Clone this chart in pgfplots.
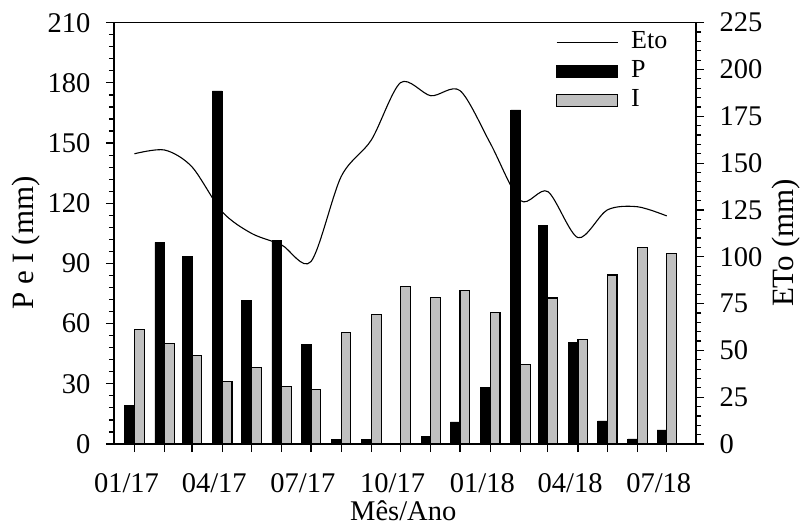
\documentclass[border=0pt]{standalone}
\usepackage{fontspec}
\setmainfont{Liberation Serif}
\usepackage{pgfplots}
\pgfplotsset{compat=1.18}
\usepackage{pgfplotstable}
\definecolor{ibar}{RGB}{192,192,192}
\newcommand{\bigf}{\fontsize{28.5}{32}\selectfont}
\newcommand{\labf}{\fontsize{31}{34}\selectfont}
\newcommand{\legf}{\fontsize{26}{28}\selectfont}

% day (0 = 1 Jan 2017), P, I
\pgfplotstableread{
d P I
0 19 57
31 100.5 50
59 93.5 44
90 176 31
120 71.5 38
151 101.5 28.8
181 49.5 27.2
212 2.3 55.5
243 2.3 64.5
273 0.4 78.5
304 3.6 73
334 11 76.5
365 28 65.5
396 166.5 39.7
424 108.8 72.8
455 50.5 52
485 11.5 84.2
516 2.5 98
546 7 95
}\bars

\pgfplotstableread{
d E
0 155
31 157
59 148
90 124
120 112.5
151 106.3
181 97.4
212 142.8
243 162.4
273 193
304 186
334 188.7
365 160.6
396 130
424 134.8
455 110.2
485 125
516 126.7
546 121.8
}\eto

\begin{document}
\begin{tikzpicture}
\useasboundingbox (-114pt,-83pt) rectangle (689pt,444pt);
\begin{axis}[
  scale only axis, width=582pt, height=421.3pt,
  xmin=-21, xmax=576, ymin=0, ymax=210,
  axis line style={line width=1.2pt},
  every tick/.style={line width=1.2pt, black},
  tick align=outside,
  major tick length=8pt, minor tick length=5pt,
  xtick={0,31,59,90,120,151,181,212,243,273,304,334,365,396,424,455,485,516,546},
  xticklabels={01/17,,,04/17,,,07/17,,,10/17,,,01/18,,,04/18,,,07/18},
  xticklabel style={xshift=-8pt, yshift=-18pt},
  yticklabel style={xshift=-12pt},
  ytick={0,30,...,210},
  minor y tick num=4,
  xtick pos=bottom, ytick pos=left,
  tick label style={font=\bigf},
  xlabel style={font=\bigf},
  ylabel style={font=\labf},
  /pgf/number format/assume math mode=true,
  xlabel={Mês/Ano},
  ylabel={P e I (mm)},
  xlabel style={at={(axis description cs:0.497,-0.181)}, anchor=base},
  ylabel style={at={(axis description cs:-0.1517,0.477)}, anchor=center, rotate=0},
]
\addplot[ybar, bar width=10, bar shift=-5, fill=black, draw=black, line width=0.8pt] table[x=d, y=P] {\bars};
\addplot[ybar, bar width=10, bar shift=5, fill=ibar, draw=black, line width=1.2pt] table[x=d, y=I] {\bars};
\end{axis}
\begin{axis}[
  scale only axis, width=582pt, height=421.3pt,
  xmin=-21, xmax=576, ymin=0, ymax=225,
  axis x line=none,
  axis y line*=right,
  axis line style={line width=1.2pt},
  every tick/.style={line width=1.2pt, black},
  tick align=outside,
  major tick length=8pt, minor tick length=5pt,
  ytick={0,25,...,225},
  minor y tick num=4,
  yticklabel style={xshift=12pt},
  tick label style={font=\bigf},
  ylabel style={font=\labf},
  /pgf/number format/assume math mode=true,
  ylabel={ETo (mm)},
  ylabel style={at={(axis description cs:1.1546,0.477)}, anchor=center, rotate=0},
  legend style={draw=none, fill=none, font=\legf, at={(axis description cs:0.754,0.99)}, anchor=north west,
    nodes={inner sep=1pt, text height=18pt, text depth=6pt}, row sep=3pt, column sep=12pt},
  legend cell align=left,
]
\addplot[smooth, line width=1.1pt, black, legend image code/.code={\draw[black, line width=1.1pt] (0pt,0pt) -- (61pt,0pt);}] table[x=d, y=E] {\eto};
\addlegendentry{Eto}
\addlegendimage{legend image code/.code={\draw[fill=black, draw=black] (0pt,-6pt) rectangle (61pt,6pt);}}
\addlegendentry{P}
\addlegendimage{legend image code/.code={\draw[fill=ibar, draw=black, line width=1.2pt] (0pt,-6pt) rectangle (61pt,6pt);}}
\addlegendentry{I}
\end{axis}
\end{tikzpicture}
\end{document}
